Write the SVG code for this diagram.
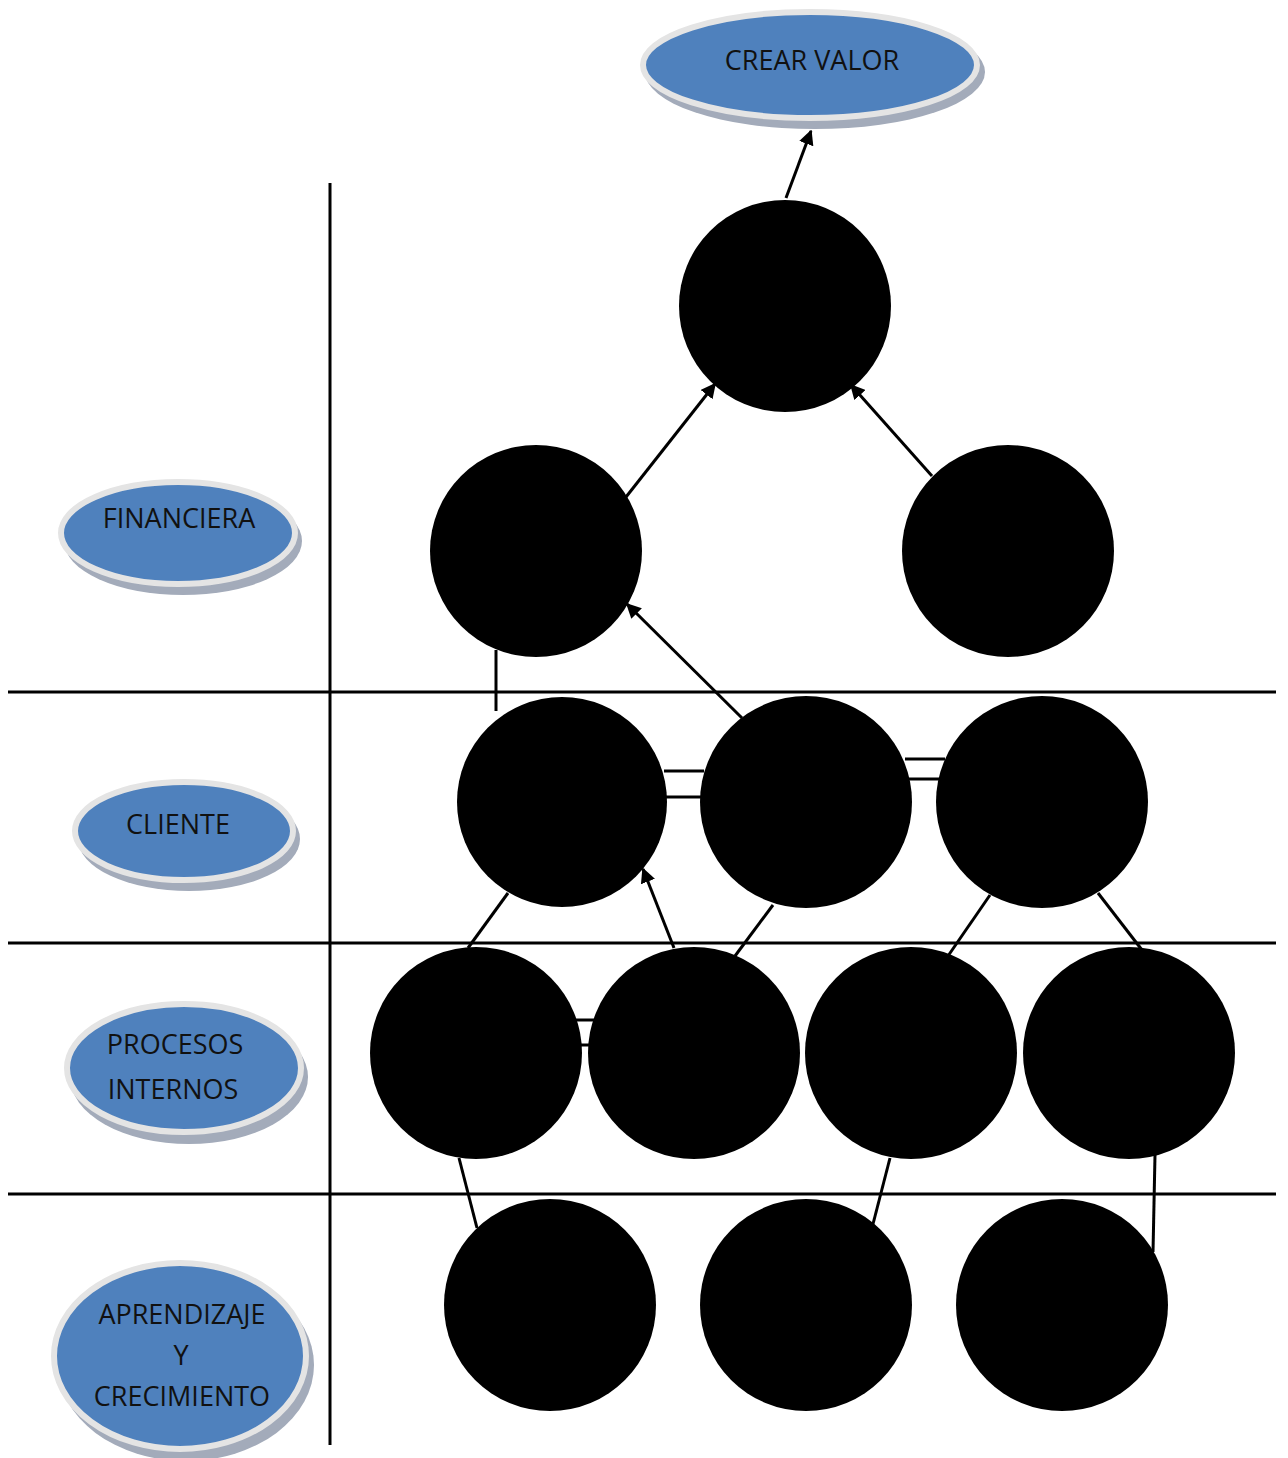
<svg xmlns="http://www.w3.org/2000/svg" width="1288" height="1458" viewBox="0 0 1288 1458">
<defs>
<style>
.bg{fill:#ffffff}
.rule{stroke:#000;stroke-width:3;fill:none}
.con{stroke:#000;stroke-width:3;fill:none}
.arr{stroke:#000;stroke-width:3;fill:none;marker-end:url(#ah)}
.shadow{fill:#a3abba}
.ell{fill:#4f81bd;stroke:#e4e4e4;stroke-width:6}
.etxt{font-family:"Open Sans","Liberation Sans",sans-serif;font-size:27px;fill:#111;text-anchor:middle}
.circ{fill:#000}
.ct{font-family:"Liberation Serif",serif;font-weight:bold;fill:#000;text-anchor:middle}
.s{font-size:15px}
.l{font-size:22px}
</style>
<marker id="ah" viewBox="0 0 10 10" refX="9" refY="5" markerWidth="5" markerHeight="5" orient="auto" markerUnits="strokeWidth">
<path d="M0,0 L10,5 L0,10 z" fill="#000"/>
</marker>
</defs>
<rect class="bg" x="0" y="0" width="1288" height="1458"/>

<g id="grid">
<line class="rule" x1="330" y1="183" x2="330" y2="1445"/>
<line class="rule" x1="8" y1="692" x2="1276" y2="692"/>
<line class="rule" x1="8" y1="943" x2="1276" y2="943"/>
<line class="rule" x1="8" y1="1194" x2="1276" y2="1194"/>
</g>

<g id="connectors">
<line class="arr" x1="786" y1="198" x2="811" y2="131"/>
<line class="arr" x1="626" y1="497" x2="715" y2="384"/>
<line class="arr" x1="932" y1="476" x2="851" y2="385"/>
<line class="arr" x1="742" y1="718" x2="627" y2="604"/>
<line class="con" x1="496" y1="650" x2="496" y2="711"/>
<line class="con" x1="664" y1="771" x2="704" y2="771"/>
<line class="con" x1="664" y1="797" x2="704" y2="797"/>
<line class="con" x1="905" y1="759" x2="945" y2="759"/>
<line class="con" x1="905" y1="779" x2="945" y2="779"/>
<line class="con" x1="508" y1="893" x2="468" y2="948"/>
<line class="arr" x1="674" y1="948" x2="643" y2="869"/>
<line class="con" x1="773" y1="905" x2="735" y2="956"/>
<line class="con" x1="990" y1="895" x2="948" y2="956"/>
<line class="con" x1="1098" y1="893" x2="1142" y2="950"/>
<line class="con" x1="576" y1="1020" x2="594" y2="1020"/>
<line class="con" x1="576" y1="1045" x2="594" y2="1045"/>
<line class="con" x1="459" y1="1158" x2="477" y2="1228"/>
<line class="con" x1="890" y1="1158" x2="873" y2="1224"/>
<line class="con" x1="1155" y1="1155" x2="1153" y2="1252"/>
</g>

<g id="crear-valor">
<ellipse class="shadow" cx="815" cy="72" rx="170" ry="57"/>
<ellipse class="ell" cx="810" cy="65" rx="167" ry="53"/>
<text class="etxt" x="812" y="70">CREAR VALOR</text>
</g>
<g id="financiera">
<ellipse class="shadow" cx="183" cy="541" rx="119" ry="54"/>
<ellipse class="ell" cx="178" cy="533" rx="117" ry="51"/>
<text class="etxt" x="179" y="528">FINANCIERA</text>
</g>
<g id="cliente">
<ellipse class="shadow" cx="189" cy="839" rx="111" ry="52"/>
<ellipse class="ell" cx="184" cy="831" rx="109" ry="49"/>
<text class="etxt" x="178" y="834">CLIENTE</text>
</g>
<g id="procesos-internos">
<ellipse class="shadow" cx="189" cy="1077" rx="119" ry="67"/>
<ellipse class="ell" cx="184" cy="1068" rx="117" ry="64"/>
<text class="etxt" x="175" y="1054">PROCESOS</text>
<text class="etxt" x="173" y="1099">INTERNOS</text>
</g>
<g id="aprendizaje">
<ellipse class="shadow" cx="186" cy="1365" rx="128" ry="96"/>
<ellipse class="ell" cx="180" cy="1356" rx="126" ry="93"/>
<text class="etxt" x="182" y="1324">APRENDIZAJE</text>
<text class="etxt" x="181" y="1365">Y</text>
<text class="etxt" x="182" y="1406">CRECIMIENTO</text>
</g>

<g id="alcanzar">
<circle class="circ" cx="785" cy="306" r="106"/>
<text class="ct s" x="785" y="278">ALCANZAR</text>
<text class="ct s" x="785" y="302">NIVELES DE</text>
<text class="ct s" x="785" y="323">RENTABILIDAD</text>
<text class="ct s" x="785" y="345">DESEADOS</text>
</g>
<g id="incrementar">
<circle class="circ" cx="536" cy="551" r="106"/>
<text class="ct s" x="536" y="545">INCREMENTAR</text>
<text class="ct s" x="536" y="565">INGRESOS</text>
</g>
<g id="correcta">
<circle class="circ" cx="1008" cy="551" r="106"/>
<text class="ct s" x="1006" y="533">CORRECTA</text>
<text class="ct s" x="1006" y="555">GESTION</text>
<text class="ct s" x="1006" y="580">FINANCIERA</text>
</g>
<g id="mantener-ampliar">
<circle class="circ" cx="562" cy="802" r="105"/>
<text class="ct s" x="562" y="765">MANTENER Y</text>
<text class="ct s" x="562" y="787">AMPLIAR</text>
<text class="ct s" x="562" y="805">PACIENTES</text>
<text class="ct s" x="562" y="827">ACTUALES Y</text>
<text class="ct s" x="562" y="848">POTENCIALES</text>
</g>
<g id="relacion-estrecha">
<circle class="circ" cx="806" cy="802" r="106"/>
<text class="ct s" x="806" y="787">RELACION</text>
<text class="ct s" x="806" y="807">ESTRECHA CON</text>
<text class="ct s" x="806" y="827">PACIENTES</text>
</g>
<g id="relacion-comunidad">
<circle class="circ" cx="1042" cy="802" r="106"/>
<text class="ct s" x="1042" y="785">RELACION CON LA</text>
<text class="ct s" x="1042" y="805">RESPONSABILIDAD</text>
<text class="ct s" x="1042" y="827">Y ETICA</text>
</g>
<g id="ofrecer">
<circle class="circ" cx="476" cy="1053" r="106"/>
<text class="ct l" x="476" y="1020">OFRECER</text>
<text class="ct l" x="476" y="1048">SERVICIOS</text>
<text class="ct l" x="476" y="1078">DE</text>
<text class="ct l" x="476" y="1101">CALIDAD</text>
</g>
<g id="crear-valor-pacientes">
<circle class="circ" cx="694" cy="1053" r="106"/>
<text class="ct l" x="694" y="1018">CREAR</text>
<text class="ct l" x="694" y="1048">VALOR</text>
<text class="ct l" x="694" y="1076">PARA LOS</text>
<text class="ct l" x="694" y="1105">PACIENTES</text>
</g>
<g id="mantener-clima">
<circle class="circ" cx="911" cy="1053" r="106"/>
<text class="ct l" x="911" y="1018">MANTENER</text>
<text class="ct l" x="911" y="1048">UN CLIMA</text>
<text class="ct l" x="911" y="1076">LABORAL</text>
<text class="ct l" x="911" y="1105">AMENO</text>
</g>
<g id="cuidado">
<circle class="circ" cx="1129" cy="1053" r="106"/>
<text class="ct l" x="1129" y="1013">CUIDADO</text>
<text class="ct l" x="1129" y="1043">DEL</text>
<text class="ct l" x="1129" y="1076">MEDIO</text>
<text class="ct l" x="1129" y="1105">AMBIENTE</text>
</g>
<g id="financiamiento">
<circle class="circ" cx="550" cy="1305" r="106"/>
<text class="ct s" x="550" y="1300">FINANCIAMIENTO</text>
<text class="ct s" x="550" y="1318">PROPIO</text>
</g>
<g id="motivar">
<circle class="circ" cx="806" cy="1305" r="106"/>
<text class="ct s" x="806" y="1290">MOTIVAR Y</text>
<text class="ct s" x="806" y="1310">CAPACITAR AL</text>
<text class="ct s" x="806" y="1328">PERSONAL</text>
</g>
<g id="promover">
<circle class="circ" cx="1062" cy="1305" r="106"/>
<text class="ct s" x="1062" y="1290">PROMOVER</text>
<text class="ct s" x="1062" y="1310">CAMBIO</text>
<text class="ct s" x="1062" y="1328">CULTURAL</text>
</g>
</svg>
